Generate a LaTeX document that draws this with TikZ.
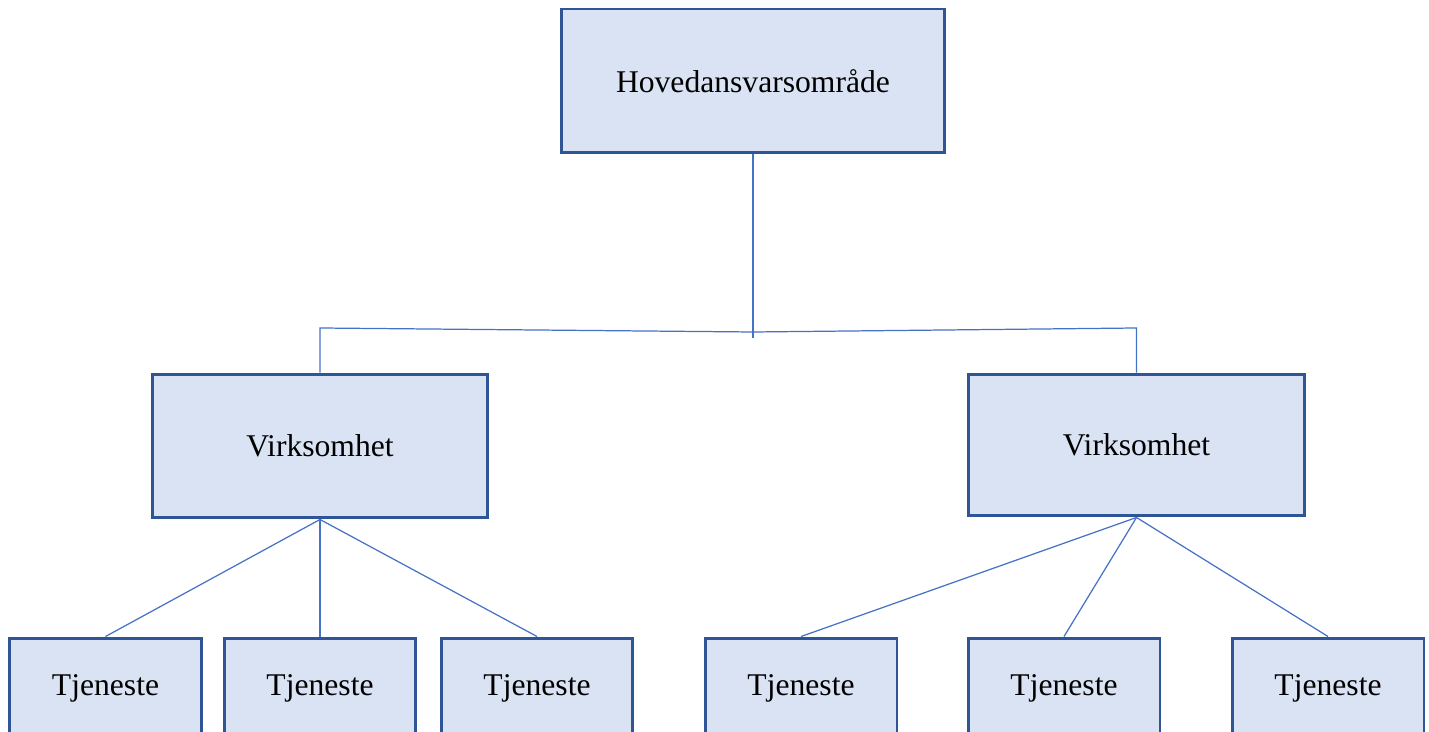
\documentclass[tikz,border=0pt]{standalone}
\usepackage{fontspec}
\setmainfont{Liberation Serif}
\definecolor{boxfill}{HTML}{DAE3F3}
\definecolor{boxedge}{HTML}{2F5597}
\definecolor{linkblue}{HTML}{4472C4}
\tikzset{
    unitbox/.style = {draw = boxedge, fill = boxfill, line width = 1.7pt, font = \fontsize{18}{22}\selectfont, inner sep = 0pt},
    link/.style = {draw = linkblue, line width = 0.7pt}
}

\begin{document}
\begin{tikzpicture}[x = 0.02cm, y = -0.02cm]
    \useasboundingbox (0,0) rectangle (1429,732);
    \node[unitbox, minimum width = 7.68cm, minimum height = 2.88cm] (hoved) at (753,81) {Hovedansvarsområde};
    \node[unitbox, minimum width = 6.72cm, minimum height = 2.88cm] (virkA) at (320,446) {Virksomhet};
    \node[unitbox, minimum width = 6.72cm, minimum height = 2.84cm] (virkB) at (1136.5,445) {Virksomhet};
    \foreach \name/\x in {tjA1/105.5, tjA2/320, tjA3/537, tjB1/801, tjB2/1064, tjB3/1328}
        \node[unitbox, minimum width = 3.84cm, minimum height = 2cm] (\name) at (\x,688) {Tjeneste};
    \coordinate (hub) at (753,332);
    \coordinate (hubend) at (753,338);
    \coordinate (kneeA) at (320,328);
    \coordinate (kneeB) at (1136.5,328);
    \draw[link] (hoved.south) -- (hubend);
    \draw[link] (hub) -- (kneeA) -- (virkA.north);
    \draw[link] (hub) -- (kneeB) -- (virkB.north);
    \foreach \kid in {tjA1, tjA2, tjA3}
        \draw[link] (virkA.south) -- (\kid.north);
    \foreach \kid in {tjB1, tjB2, tjB3}
        \draw[link] (virkB.south) -- (\kid.north);
\end{tikzpicture}
\end{document}
